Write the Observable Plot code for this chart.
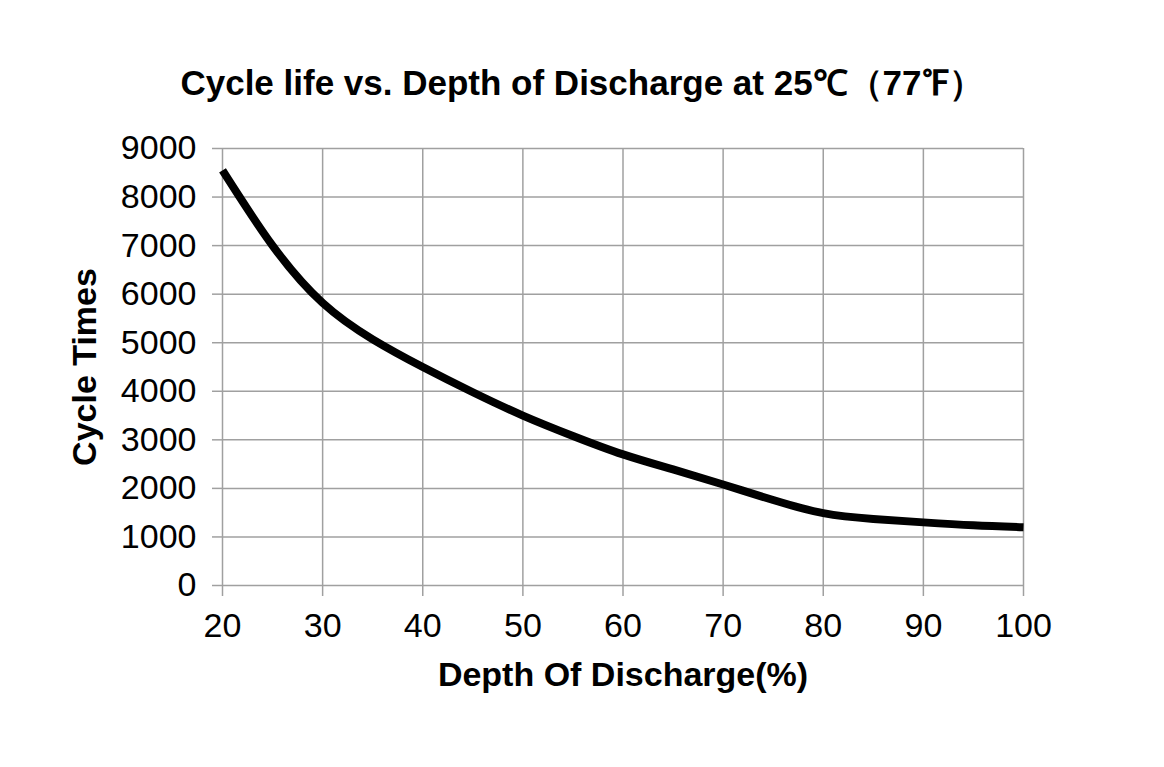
<!DOCTYPE html>
<html><head><meta charset="utf-8">
<script src="https://cdn.jsdelivr.net/npm/d3@7"></script>
<script src="https://cdn.jsdelivr.net/npm/@observablehq/plot@0.6"></script>
<style>
html,body{margin:0;padding:0;background:#fff;}
body{width:1164px;height:767px;overflow:hidden;font-family:"Liberation Sans",Arial,sans-serif;}
#title{height:120px;position:relative;}
#title div{position:absolute;left:0;width:1164px;text-align:center;top:63px;font-size:35px;font-weight:bold;line-height:40px;color:#000;}
svg{display:block;}
</style>
</head><body>
<div id="title"><div>Cycle life vs. Depth of Discharge at 25℃（77℉）</div></div>
<div id="chart"></div>
<script>
const depth = [20,25,30,35,40,45,50,55,60,65,70,75,80,85,90,95,100];
const cycles = [8550,7000,5820,5070,4500,3980,3500,3080,2700,2390,2080,1760,1490,1370,1300,1240,1200];
const xTicks = [20,30,40,50,60,70,80,90,100];
const yTicks = [0,1000,2000,3000,4000,5000,6000,7000,8000,9000];
const xLabel = "Depth Of Discharge(%)";
const yLabel = "Cycle Times";

const data = depth.map((d,i)=>({depth:d, cycles:cycles[i]}));
const grid = "#a0a0a0";
const chart = Plot.plot({
  width:1164, height:647,
  marginTop:28, marginBottom:182, marginLeft:222, marginRight:141,
  style:{fontFamily:"Liberation Sans, Arial, sans-serif", fontSize:"34px", color:"#000", background:"#fff"},
  x:{domain:[20,100]},
  y:{domain:[0,9000]},
  marks:[
    Plot.gridX(xTicks,{stroke:grid, strokeOpacity:1, strokeWidth:1.5}),
    Plot.gridY(yTicks,{stroke:grid, strokeOpacity:1, strokeWidth:1.5}),
    Plot.axisX(xTicks,{tickSize:11, tickPadding:16, stroke:grid, strokeWidth:1.5, fill:"#000", label:null, fontSize:34}),
    Plot.axisY(yTicks,{tickSize:10, tickPadding:16, stroke:grid, strokeWidth:1.5, fill:"#000", label:null, fontSize:34, tickFormat:d3.format("d")}),
    Plot.line(data,{x:"depth", y:"cycles", curve:"natural", stroke:"#000", strokeWidth:8, strokeLinecap:"butt", strokeLinejoin:"round"}),
    Plot.text([yLabel],{text:d=>d, frameAnchor:"left", textAnchor:"middle", lineAnchor:"middle", dx:-137, rotate:-90, fontWeight:"bold", fontSize:34, fill:"#000"}),
    Plot.text([xLabel],{text:d=>d, frameAnchor:"bottom", textAnchor:"middle", lineAnchor:"middle", dy:90, fontWeight:"bold", fontSize:34, fill:"#000"})
  ]
});
document.getElementById("chart").appendChild(chart);
</script>
</body></html>
